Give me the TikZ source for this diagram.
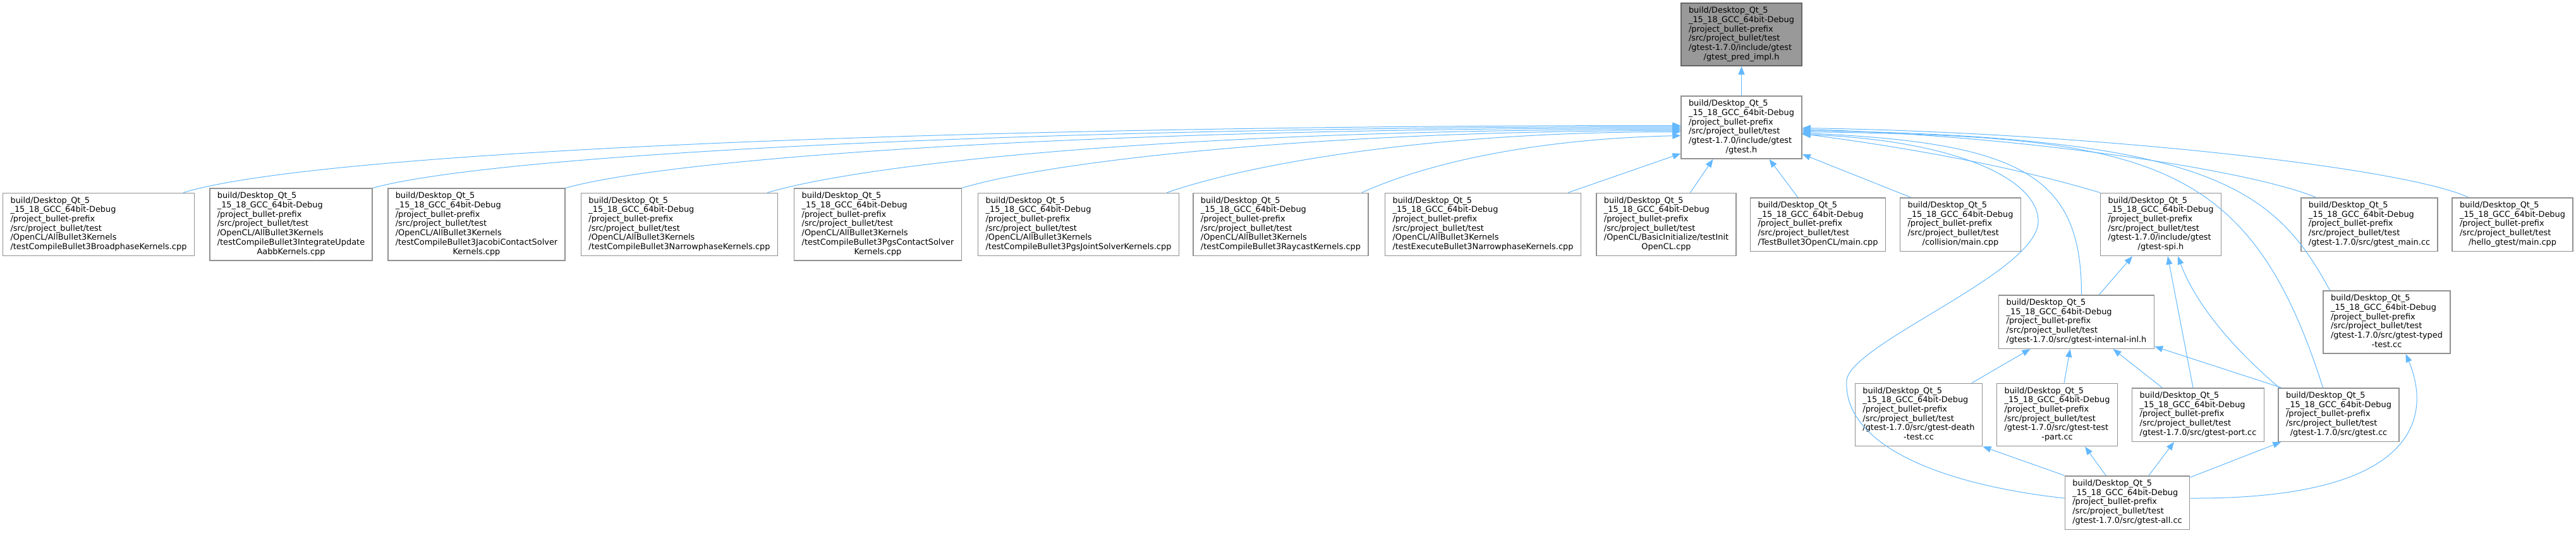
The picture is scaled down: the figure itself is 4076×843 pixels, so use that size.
\documentclass[tikz,border=0pt]{standalone}
\usepackage{fontspec}
\setmainfont{DejaVu Sans}
\usetikzlibrary{arrows.meta}
\definecolor{edgeblue}{RGB}{99,184,255}
\definecolor{boxgray}{RGB}{145,145,145}
\definecolor{curgray}{RGB}{153,153,153}
\definecolor{curline}{RGB}{102,102,102}
\newcommand{\qtpre}{build/Desktop\_Qt\_5\\\_15\_18\_GCC\_64bit-Debug\\/project\_bullet-prefix\\/src/project\_bullet/test}
\newcommand{\flab}[2]{\begin{tabular}{@{}l@{}}\qtpre\\#1\multicolumn{1}{@{}c@{}}{#2}\end{tabular}}

\begin{document}
\begin{tikzpicture}[x=1pt, y=-1pt, >={Triangle[length=13pt,width=10pt]},
    file/.style={draw=boxgray, fill=white, line width=1.5pt, inner xsep=12pt, inner ysep=5.5pt,
        font=\fontsize{12.9}{14.7}\selectfont},
    dep/.style={->, edgeblue, line width=1pt}]
    \useasboundingbox (0,0) rectangle (4076,843);

    % the header itself and the one that includes it
    \node[file, fill=curgray, draw=curline] (pred) at (2755.5,54.5) {\flab{/gtest-1.7.0/include/gtest\\}{/gtest\_pred\_impl.h}};
    \node[file] (gt) at (2755.5,201.5) {\flab{/gtest-1.7.0/include/gtest\\}{/gtest.h}};

    % files that include gtest.h
    \node[file] (bp) at (156,355) {\flab{/OpenCL/AllBullet3Kernels\\}{/testCompileBullet3BroadphaseKernels.cpp}};
    \node[file] (iu) at (460.5,355) {\flab{/OpenCL/AllBullet3Kernels\\/testCompileBullet3IntegrateUpdate\\}{AabbKernels.cpp}};
    \node[file] (jc) at (754,355) {\flab{/OpenCL/AllBullet3Kernels\\/testCompileBullet3JacobiContactSolver\\}{Kernels.cpp}};
    \node[file] (np) at (1075,355) {\flab{/OpenCL/AllBullet3Kernels\\}{/testCompileBullet3NarrowphaseKernels.cpp}};
    \node[file] (pc) at (1389,355) {\flab{/OpenCL/AllBullet3Kernels\\/testCompileBullet3PgsContactSolver\\}{Kernels.cpp}};
    \node[file] (pj) at (1706.5,355) {\flab{/OpenCL/AllBullet3Kernels\\}{/testCompileBullet3PgsJointSolverKernels.cpp}};
    \node[file] (rc) at (2026.5,355) {\flab{/OpenCL/AllBullet3Kernels\\}{/testCompileBullet3RaycastKernels.cpp}};
    \node[file] (en) at (2346.5,355) {\flab{/OpenCL/AllBullet3Kernels\\}{/testExecuteBullet3NarrowphaseKernels.cpp}};
    \node[file] (bi) at (2636.5,355) {\flab{/OpenCL/BasicInitialize/testInit\\}{OpenCL.cpp}};
    \node[file] (tb) at (2876.5,355) {\flab{}{/TestBullet3OpenCL/main.cpp}};
    \node[file] (col) at (3102,355) {\flab{}{/collision/main.cpp}};
    \node[file] (spi) at (3419,355) {\flab{/gtest-1.7.0/include/gtest\\}{/gtest-spi.h}};
    \node[file] (gmain) at (3749,355) {\flab{}{/gtest-1.7.0/src/gtest\_main.cc}};
    \node[file] (hello) at (3975.5,355) {\flab{}{/hello\_gtest/main.cpp}};

    % gtest sources
    \node[file] (inl) at (3285.5,509) {\flab{}{/gtest-1.7.0/src/gtest-internal-inl.h}};
    \node[file] (typed) at (3776.5,509.5) {\flab{/gtest-1.7.0/src/gtest-typed\\}{-test.cc}};
    \node[file] (death) at (3036,656) {\flab{/gtest-1.7.0/src/gtest-death\\}{-test.cc}};
    \node[file] (tpart) at (3255,656) {\flab{/gtest-1.7.0/src/gtest-test\\}{-part.cc}};
    \node[file] (port) at (3478,656) {\flab{}{/gtest-1.7.0/src/gtest-port.cc}};
    \node[file] (gcc) at (3700.5,656) {\flab{}{/gtest-1.7.0/src/gtest.cc}};
    \node[file] (all) at (3366,795) {\flab{}{/gtest-1.7.0/src/gtest-all.cc}};

    \draw[dep] (gt) -- (pred);

    % kernel tests, curving in from the left
    \draw[dep] ([xshift=-18pt]bp.north east) .. controls +(210,-65) and +(-1160,0) .. ([yshift=3pt]gt.west);
    \draw[dep] (iu.north east) .. controls +(200,-55) and +(-1000,0) .. ([yshift=1pt]gt.west);
    \draw[dep] (jc.north east) .. controls +(180,-50) and +(-900,0) .. ([yshift=-1pt]gt.west);
    \draw[dep] ([xshift=-17pt]np.north east) .. controls +(170,-50) and +(-750,0) .. ([yshift=-3pt]gt.west);
    \draw[dep] (pc.north east) .. controls +(150,-45) and +(-550,0) .. ([yshift=-5pt]gt.west);
    \draw[dep] ([xshift=-20pt]pj.north east) .. controls +(130,-45) and +(-400,0) .. ([yshift=-7pt]gt.west);
    \draw[dep] ([xshift=-11pt]rc.north east) .. controls +(110,-50) and +(-220,5) .. ([yshift=-13pt]gt.west);
    \draw[dep] ([xshift=-21pt]en.north east) -- ([yshift=9pt]gt.south west);
    \draw[dep] ([xshift=38pt]bi.north) -- ([xshift=-45pt]gt.south);
    \draw[dep] ([xshift=-32pt]tb.north) -- ([xshift=44pt]gt.south);
    \draw[dep] ([xshift=-79pt]col.north) -- ([yshift=8pt]gt.south east);

    % the rest come in from the right
    \draw[dep] (spi.north west) .. controls +(-150,-45) and +(150,20) .. ([yshift=-10pt]gt.east);
    \draw[dep] ([xshift=-85pt]gmain.north) .. controls +(-104,-43) and +(349,10) .. ([yshift=-3pt]gt.east);
    \draw[dep] ([xshift=-70pt]hello.north) .. controls +(-105,-48) and +(449,7) .. ([yshift=-1pt]gt.east);
    \draw[dep] ([xshift=-90pt]typed.north) .. controls +(-87,-160) and +(649,9) .. ([yshift=-5pt]gt.east);
    \draw[dep] ([xshift=-25pt]gcc.north) .. controls +(-116,-364) and +(549,7) .. ([yshift=-7pt]gt.east);
    \draw[dep] ([xshift=8pt]inl.north) .. controls +(0,-187) and +(349,15) .. ([yshift=-9pt]gt.east);
    \draw[dep] ([yshift=7pt]all.west) .. controls (3060,765) and (2915,700) .. (2922,600)
        .. controls (2935,540) and (3225,430) .. (3225,350)
        .. controls (3225,285) and (3100,222) .. ([yshift=-11pt]gt.east);

    % gtest-spi.h
    \draw[dep] ([xshift=36pt]inl.north) -- ([xshift=-45pt]spi.south);
    \draw[dep] ([xshift=-8pt]port.north) -- ([xshift=11pt]spi.south);
    \draw[dep] ([xshift=2pt]gcc.north west) .. controls +(-87,-74) and +(24,65) .. ([xshift=27pt]spi.south);

    % gtest-internal-inl.h
    \draw[dep] ([xshift=84pt]death.north) -- ([xshift=-73pt]inl.south);
    \draw[dep] ([xshift=11pt]tpart.north) -- ([xshift=-10pt]inl.south);
    \draw[dep] ([xshift=-57pt]port.north) -- ([xshift=58pt]inl.south);
    \draw[dep] ([xshift=5pt]gcc.north west) -- ([yshift=4pt]inl.south east);

    % gtest-all.cc
    \draw[dep] (all.north west) -- (death.south east);
    \draw[dep] ([xshift=-34pt]all.north) -- ([xshift=44pt]tpart.south);
    \draw[dep] ([xshift=34pt]all.north) -- ([xshift=-38pt]port.south);
    \draw[dep] ([yshift=-3pt]all.north east) -- ([xshift=5pt]gcc.south west);
    \draw[dep] ([yshift=7pt]all.east) .. controls +(387,2) and +(34,80) .. ([xshift=30pt]typed.south);
\end{tikzpicture}
\end{document}
